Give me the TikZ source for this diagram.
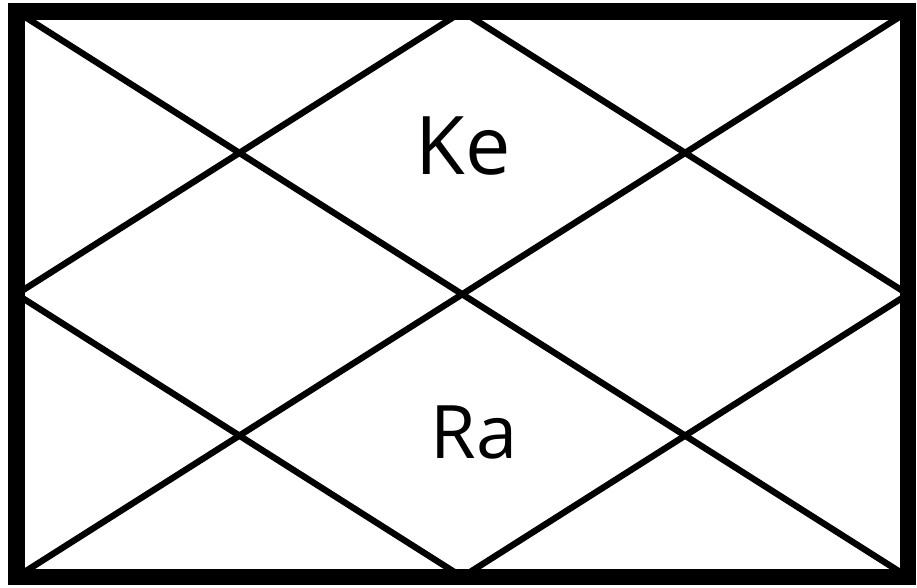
\documentclass[tikz,border=0pt]{standalone}
\usepackage{fontspec}
\setmainfont{Open Sans}
\usetikzlibrary{positioning, calc}
\tikzset{
    frame/.style={line width=4.8pt, line join=miter},
    house/.style={line width=1.8pt, line cap=round},
    planet/.style={inner sep=0pt, anchor=center}
}

\begin{document}
\begin{tikzpicture}[x=0.01cm, y=-0.01cm]
    % --- CANVAS ---
    \useasboundingbox (0,0) rectangle (917,587);

    % Corners of the chart
    \coordinate (nw) at (16.5,11.5);
    \coordinate (ne) at (908,11.5);
    \coordinate (se) at (908,577);
    \coordinate (sw) at (16.5,577);

    % Midpoints of the sides
    \coordinate (n) at ($(nw)!0.5!(ne)$);
    \coordinate (e) at ($(ne)!0.5!(se)$);
    \coordinate (s) at ($(sw)!0.5!(se)$);
    \coordinate (w) at ($(nw)!0.5!(sw)$);

    % Diagonals
    \draw[house] (nw) -- (se);
    \draw[house] (ne) -- (sw);

    % Inner diamond
    \draw[house] (n) -- (e) -- (s) -- (w) -- cycle;

    % Outer frame
    \draw[frame] (nw) rectangle (se);

    % Planets
    \node[planet, font=\fontsize{23}{27}\selectfont] (ke) at (463,146) {Ke};
    \node[planet, font=\fontsize{21}{25}\selectfont] (ra) at (474,432) {Ra};
\end{tikzpicture}
\end{document}
